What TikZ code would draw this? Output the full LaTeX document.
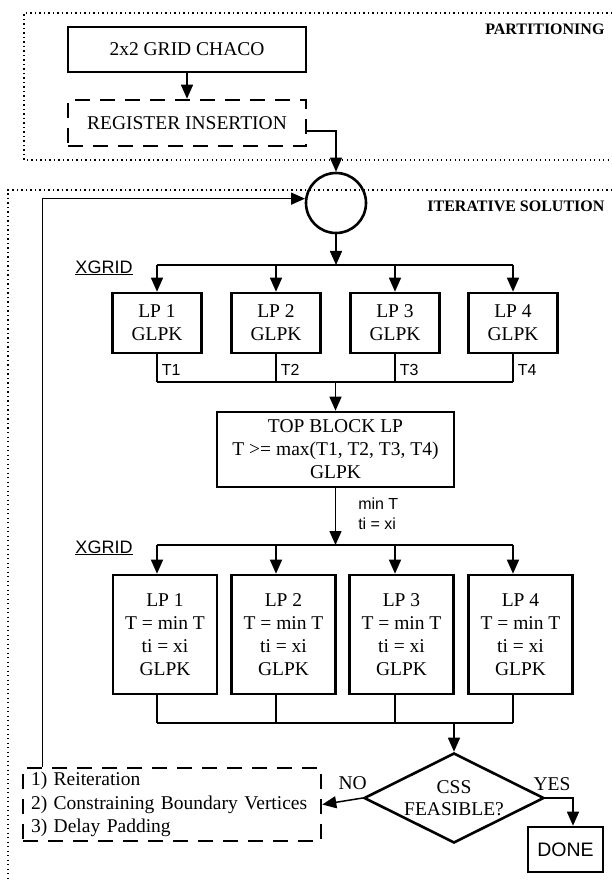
\documentclass[tikz,border=0pt]{standalone}
\usepackage{fontspec}
\setmainfont{Liberation Serif}
\setsansfont{Liberation Sans}
\usetikzlibrary{arrows.meta,shapes.geometric}

\begin{document}
\begin{tikzpicture}[
    x=1pt, y=-1pt,
    box/.style={draw, line width=2.6pt, inner sep=0pt, align=center,
                font=\fontsize{19.5}{23}\selectfont},
    dbox/.style={box, dash pattern=on 15pt off 10pt},
    frame/.style={line width=1.3pt, dash pattern=on 1.3pt off 3.2pt},
    arr/.style={-{Triangle[length=14pt,width=12pt]}, line width=1.5pt},
    wire/.style={line width=1.5pt},
    tag/.style={font=\sffamily\fontsize{16}{20}\selectfont, inner sep=4pt},
    lbl/.style={font=\fontsize{19.5}{23}\selectfont, inner sep=3pt},
    xgridlab/.style={font=\sffamily\fontsize{18}{20}\selectfont, anchor=base},
    head/.style={font=\bfseries\fontsize{16}{18}\selectfont, anchor=east},
]
    \useasboundingbox (0,0) rectangle (612,882);
    \draw[frame] (612,13) -- (24,13) -- (24,160) -- (612,160);
    \draw[frame] (612,190) -- (8,190) -- (8,882);
    \node[head] (hpart) at (608,29) {PARTITIONING};
    \node[head] (hiter) at (608,206) {ITERATIVE SOLUTION};

    \node[box, minimum width=238pt, minimum height=45pt] (chaco) at (187,49.5)
        {2x2 GRID CHACO};
    \node[dbox, minimum width=238pt, minimum height=46pt] (reg) at (187,123)
        {REGISTER INSERTION};
    \node[circle, draw, line width=2.6pt, minimum size=60pt, inner sep=0pt] (hub)
        at (336,203) {};

    \node[xgridlab] (xg1) at (104,273) {\underline{XGRID}};
    \node[box, minimum width=89pt, minimum height=60pt] (lpa1) at (157,323) {LP 1\\GLPK};
    \node[box, minimum width=89pt, minimum height=60pt] (lpa2) at (276,323) {LP 2\\GLPK};
    \node[box, minimum width=89pt, minimum height=60pt] (lpa3) at (395,323) {LP 3\\GLPK};
    \node[box, minimum width=89pt, minimum height=60pt] (lpa4) at (513,323) {LP 4\\GLPK};

    \node[box, minimum width=237pt, minimum height=75pt] (top) at (335.5,449.5)
        {TOP BLOCK LP\\T >= max(T1, T2, T3, T4)\\GLPK};

    \node[xgridlab] (xg2) at (104,553) {\underline{XGRID}};
    \node[box, minimum width=104pt, minimum height=119pt] (lpb1) at (165,634.5)
        {LP 1\\T = min T\\ti = xi\\GLPK};
    \node[box, minimum width=104pt, minimum height=119pt] (lpb2) at (283.5,634.5)
        {LP 2\\T = min T\\ti = xi\\GLPK};
    \node[box, minimum width=104pt, minimum height=119pt] (lpb3) at (401.5,634.5)
        {LP 3\\T = min T\\ti = xi\\GLPK};
    \node[box, minimum width=104pt, minimum height=119pt] (lpb4) at (520.5,634.5)
        {LP 4\\T = min T\\ti = xi\\GLPK};

    \node[diamond, draw, line width=2.6pt, aspect=2, minimum width=180pt,
          minimum height=90pt, inner sep=0pt, align=center,
          font=\fontsize{19.5}{22}\selectfont] (css) at (454,798) {CSS\\FEASIBLE?};
    \node[box, font=\sffamily\fontsize{19.5}{23}\selectfont, minimum width=75pt,
          minimum height=45pt] (done) at (565.5,849.5) {DONE};
    \node[dbox, text width=282pt, align=left, inner xsep=8pt, inner ysep=2pt,
          minimum height=73pt, font=\fontsize{19.5}{23.5}\selectfont] (fix) at (172,804.5)
        {1) Reiteration\\2) Constraining Boundary Vertices\\3) Delay Padding};

    \coordinate (fork1) at (336,265);
    \coordinate (sa1) at (157,265);
    \coordinate (sa2) at (276,265);
    \coordinate (sa3) at (395,265);
    \coordinate (sa4) at (513,265);
    \coordinate (ja1) at (157,382);
    \coordinate (ja2) at (276,382);
    \coordinate (ja3) at (395,382);
    \coordinate (ja4) at (513,382);
    \coordinate (join1) at (335.5,382);
    \coordinate (fork2) at (335.5,545);
    \coordinate (sb1) at (157,545);
    \coordinate (sb2) at (276,545);
    \coordinate (sb3) at (395,545);
    \coordinate (sb4) at (513,545);
    \coordinate (jb1) at (157,723);
    \coordinate (jb2) at (276,723);
    \coordinate (jb3) at (395,723);
    \coordinate (jb4) at (513,723);
    \coordinate (join2) at (454,723);

    \draw[arr] (chaco) -- (reg);
    \draw[arr] ([yshift=-8pt]reg.east) -| (hub.north);
    \draw[arr] (hub) -- (fork1);
    \draw[wire] (sa1) -- (sa4);
    \draw[arr] (sa1) -- (lpa1);
    \draw[arr] (sa2) -- (lpa2);
    \draw[arr] (sa3) -- (lpa3);
    \draw[arr] (sa4) -- (lpa4);
    \draw[wire] (lpa1) -- node[tag, right, pos=0.55] {T1} (ja1);
    \draw[wire] (lpa2) -- node[tag, right, pos=0.55] {T2} (ja2);
    \draw[wire] (lpa3) -- node[tag, right, pos=0.55] {T3} (ja3);
    \draw[wire] (lpa4) -- node[tag, right, pos=0.55] {T4} (ja4);
    \draw[wire] (ja1) -- (ja4);
    \draw[arr] (join1) -- (top);
    \draw[arr] (top) -- node[tag, right=18pt, pos=0.45, align=left] {min T\\ti = xi} (fork2);
    \draw[wire] (sb1) -- (sb4);
    \draw[arr] (sb1) -- (sb1 |- lpb1.north);
    \draw[arr] (sb2) -- (sb2 |- lpb2.north);
    \draw[arr] (sb3) -- (sb3 |- lpb3.north);
    \draw[arr] (sb4) -- (sb4 |- lpb4.north);
    \draw[wire] (lpb1.south -| jb1) -- (jb1);
    \draw[wire] (lpb2.south -| jb2) -- (jb2);
    \draw[wire] (lpb3.south -| jb3) -- (jb3);
    \draw[wire] (lpb4.south -| jb4) -- (jb4);
    \draw[wire] (jb1) -- (jb4);
    \draw[arr] (join2) -- (css);
    \draw[arr] (css.west) -- node[lbl, above=6pt, pos=0.25] {NO} (fix.east);
    \draw[arr] (css.east) -| node[lbl, above=4pt, pos=0.12] {YES} ([xshift=7.5pt]done.north);
    \draw[arr] ([xshift=21pt]fix.north west) |- (hub.172);
\end{tikzpicture}
\end{document}
